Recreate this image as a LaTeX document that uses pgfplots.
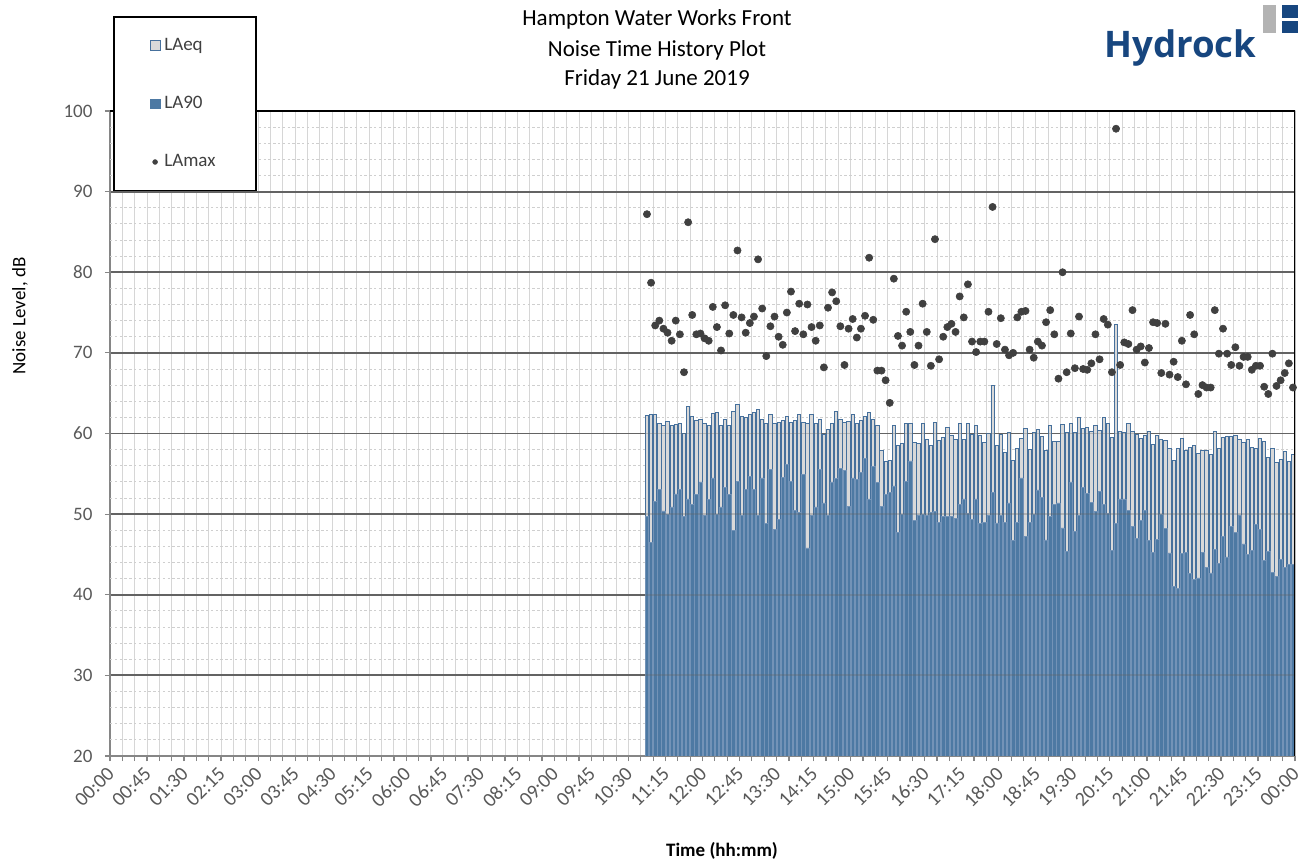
\documentclass[border=0pt]{standalone}
\usepackage{pgfplots}
\usepackage{pgfplotstable}
\pgfplotsset{compat=1.18}
\usepackage{fontspec}
\setmainfont{Carlito}
\newfontfamily\logofont{Open Sans}
\definecolor{laeqfill}{HTML}{D9D9D9}
\definecolor{laeqdraw}{HTML}{46709C}
\definecolor{la90fill}{HTML}{4D79A3}
\definecolor{la90draw}{HTML}{7393B7}
\definecolor{dotgrey}{HTML}{404040}
\definecolor{axisgrey}{HTML}{868686}
\definecolor{gridlight}{HTML}{D6D6D6}
\definecolor{gridminor}{HTML}{CFCFCF}
\definecolor{griddark}{HTML}{636363}
\definecolor{ticktext}{HTML}{595959}
\definecolor{logoblue}{HTML}{17467F}
\definecolor{logogrey}{HTML}{B3B3B3}
\pgfplotsset{
  sqlegend/.style 2 args={legend image code/.code={\draw[fill=#1, draw=#2, line width=0.4pt] (0pt,-2.4pt) rectangle (4.8pt,2.4pt);}},
  dotlegend/.style={legend image code/.code={\fill[dotgrey] (2.4pt,0pt) circle (1.2pt);}},
}

\pgfplotstableread{
laeq la90 lamax
62.2 49.7 87.2
62.3 46.5 78.7
62.3 51.6 73.4
61.3 53.1 74.0
61.0 50.4 73.0
61.5 50.0 72.5
61.0 50.9 71.5
61.1 52.5 74.0
61.2 53.1 72.3
60.0 49.7 67.6
63.4 51.9 86.2
62.1 51.2 74.7
61.6 52.4 72.3
61.7 54.0 72.4
61.3 49.8 71.8
61.0 51.8 71.5
62.5 54.5 75.7
62.6 50.0 73.2
61.0 50.9 70.3
61.7 53.3 75.9
61.0 52.4 72.4
62.7 48.0 74.7
63.6 54.1 82.7
62.1 49.8 74.4
62.0 53.1 72.5
62.4 54.7 73.7
62.6 53.1 74.5
63.0 49.8 81.6
61.7 54.5 75.5
61.2 48.8 69.6
62.4 55.5 73.3
61.3 48.1 74.5
61.4 49.3 72.0
61.6 54.6 71.0
62.1 56.2 75.0
61.4 54.1 77.6
61.6 50.5 72.7
62.3 50.2 76.1
61.4 54.9 72.3
61.3 45.8 76.0
62.3 49.8 73.2
61.3 50.9 71.5
61.8 55.5 73.4
59.9 51.4 68.2
60.5 49.9 75.6
61.2 54.0 77.5
62.7 54.4 76.4
61.7 55.7 73.3
61.4 55.4 68.5
61.5 51.0 73.0
62.4 54.5 74.2
61.3 54.3 71.9
61.6 55.2 73.0
62.1 56.9 74.6
62.6 51.9 81.8
61.8 55.9 74.1
61.0 53.9 67.8
57.9 51.0 67.8
56.5 52.4 66.6
56.6 52.7 63.8
61.0 53.5 79.2
58.5 47.7 72.1
58.8 50.0 70.9
61.3 54.1 75.1
61.3 56.6 72.6
58.9 49.2 68.5
58.8 49.9 70.9
61.3 50.0 76.1
59.3 49.9 72.6
58.5 50.2 68.4
61.4 50.3 84.1
59.1 49.0 69.2
59.5 49.7 72.0
60.7 49.7 73.2
59.7 49.7 73.6
59.3 49.5 72.6
61.2 51.2 77.0
59.3 51.9 74.4
61.2 50.1 78.5
59.9 49.3 71.4
61.0 51.9 70.1
59.8 48.8 71.4
58.9 49.0 71.4
60.0 49.8 75.1
65.9 52.7 88.1
58.5 48.9 71.1
59.9 49.8 74.3
57.6 49.0 70.4
60.1 51.4 69.7
56.7 46.7 70.0
58.1 49.0 74.4
59.4 54.5 75.1
60.6 47.2 75.2
58.0 49.0 70.4
60.1 50.0 69.4
60.5 53.0 71.4
59.6 52.1 70.9
57.9 46.8 73.8
61.0 49.7 75.3
59.0 51.2 72.3
59.0 51.4 66.8
61.1 48.3 80.0
60.1 45.4 67.6
61.3 54.0 72.4
60.1 47.9 68.1
62.0 49.8 74.5
60.6 53.3 68.0
60.8 52.6 67.9
60.3 51.5 68.7
61.0 50.3 72.3
60.4 52.8 69.2
62.0 51.2 74.2
61.3 50.1 73.5
59.5 45.5 67.6
73.5 48.8 97.8
60.3 51.9 68.5
60.1 51.9 71.3
61.3 50.5 71.1
60.3 48.5 75.3
59.9 47.0 70.4
59.4 49.2 70.8
59.8 50.5 68.8
60.2 46.7 70.6
58.6 45.3 73.8
59.7 46.9 73.7
59.3 50.0 67.5
59.1 48.2 73.6
58.1 45.2 67.3
56.7 41.0 68.9
58.1 40.8 67.0
59.4 45.1 71.5
57.9 45.3 66.1
58.3 42.6 74.7
58.5 41.9 72.3
57.5 42.1 64.9
57.9 45.3 66.0
57.9 43.4 65.7
57.4 42.7 65.7
60.2 45.6 75.3
58.1 43.9 69.9
59.5 47.2 73.0
59.6 44.7 69.9
59.6 48.5 68.5
59.7 47.7 70.7
59.2 49.9 68.4
58.9 46.3 69.5
59.3 45.0 69.5
58.3 45.5 67.9
58.2 48.7 68.4
59.4 48.1 68.4
59.0 44.3 65.8
57.0 45.4 64.9
58.2 42.8 69.9
56.4 42.3 65.9
56.8 44.4 66.6
57.8 43.4 67.5
56.5 43.8 68.7
57.4 43.8 65.7
}\noisedata

\begin{document}
\begin{tikzpicture}
\useasboundingbox (-55pt,-54.5pt) rectangle (599.5pt,378pt);
\begin{axis}[
  at={(0pt,0pt)}, anchor=south west,
  scale only axis, width=592.5pt, height=322.5pt,
  xmin=0, xmax=288, ymin=20, ymax=100,
  axis x line*=bottom, axis y line*=left,
  axis line style={draw=axisgrey, line width=0.75pt},
  tick align=outside,
  major tick length=2.6pt, minor tick length=2.6pt,
  tick style={draw=axisgrey, line width=0.6pt},
  xtick={0,9,...,288},
  xticklabels={00:00,00:45,01:30,02:15,03:00,03:45,04:30,05:15,06:00,06:45,07:30,08:15,09:00,09:45,10:30,11:15,12:00,12:45,13:30,14:15,15:00,15:45,16:30,17:15,18:00,18:45,19:30,20:15,21:00,21:45,22:30,23:15,00:00},
  minor xtick={0,3,...,288},
  ytick={20,30,...,100},
  xminorgrids=true, xmajorgrids=false, ymajorgrids=true,
  minor grid style={draw=gridlight, line width=0.5pt},
  major grid style={draw=griddark, line width=0.9pt},
  extra y ticks={22,24,26,28,32,34,36,38,42,44,46,48,52,54,56,58,62,64,66,68,72,74,76,78,82,84,86,88,92,94,96,98},
  extra y tick labels={},
  extra y tick style={grid=major, major grid style={draw=gridminor, line width=0.4pt, dash pattern=on 1.2pt off 1.2pt}, major tick length=0pt},
  tick label style={font=\fontsize{9.5}{11}\selectfont, text=ticktext},
  /pgf/number format/assume math mode=true,
  xticklabel style={font=\fontsize{10}{11}\selectfont, xshift=-2pt, yshift=-2.2pt, rotate=45, anchor=north east, inner sep=0pt},
  yticklabel style={anchor=east, inner sep=0pt, xshift=-6pt},
  legend cell align=left,
  legend style={at={(axis description cs:0.00253,1.1473)}, anchor=north west,
    draw=black, line width=0.9pt, fill=white,
    inner xsep=18pt, inner ysep=8.5pt, row sep=17.5pt,
    font=\fontsize{9.5}{11}\selectfont, text=dotgrey},
]
\addplot[ybar, bar width=0.8, bar shift=0pt, fill=laeqfill, draw=laeqdraw, line width=0.45pt, sqlegend={laeqfill}{laeqdraw}]
  table[x expr=\coordindex+130.5, y=laeq] {\noisedata};
\addlegendentry{LAeq}
\addplot[ybar, bar width=0.8, bar shift=0pt, fill=la90fill, draw=la90draw, line width=0.3pt, sqlegend={la90fill}{la90fill}]
  table[x expr=\coordindex+130.5, y=la90] {\noisedata};
\addlegendentry{LA90}
\addplot[only marks, mark=*, mark size=1.8pt, color=dotgrey, line width=0.3pt, dotlegend]
  table[x expr=\coordindex+130.5, y=lamax] {\noisedata};
\addlegendentry{LAmax}
\pgfplotsinvokeforeach{30,40,50,60}{\draw[griddark, opacity=0.3, line width=0.9pt] (axis cs:130,#1) -- (axis cs:288,#1);}
\draw[black, line width=0.9pt] (rel axis cs:0,1) -- (rel axis cs:1,1) -- (rel axis cs:1,0);
\end{axis}
\node[anchor=base, font=\fontsize{11.5}{14}\selectfont] at (273.5pt,365pt) {Hampton Water Works Front};
\node[anchor=base, font=\fontsize{11.5}{14}\selectfont] at (273.5pt,349.5pt) {Noise Time History Plot};
\node[anchor=base, font=\fontsize{11.5}{14}\selectfont] at (273.5pt,335.4pt) {Friday 21 June 2019};
\node[rotate=90, font=\fontsize{9.5}{11}\selectfont] at (-45pt,220pt) {Noise Level, dB};
\node[font=\bfseries\fontsize{9.5}{11}\selectfont] at (306pt,-47.5pt) {Time (hh:mm)};
\node[anchor=base west, inner sep=0pt, text=logoblue, font=\logofont\bfseries\fontsize{18.3}{18}\selectfont] at (497pt,349pt) {Hydrock};
\fill[logogrey] (576.4pt,361.5pt) rectangle (583pt,375.5pt);
\fill[logoblue] (586pt,368.8pt) rectangle (594pt,375.5pt);
\fill[logoblue] (586pt,361.5pt) rectangle (594pt,367.6pt);
\end{tikzpicture}
\end{document}
